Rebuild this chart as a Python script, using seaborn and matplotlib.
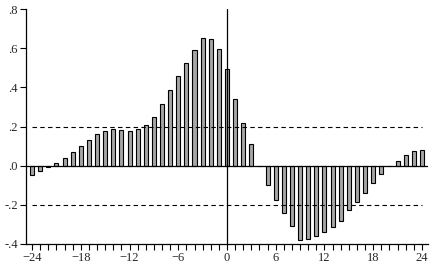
import numpy as np
import pandas as pd
import seaborn as sns
import matplotlib.pyplot as plt

# Cross-correlation by lag
lags = list(range(-24, 25))
corr = [-0.047, -0.027, -0.006, 0.013, 0.037, 0.068, 0.098, 0.129,
        0.161, 0.175, 0.186, 0.180, 0.175, 0.186, 0.206, 0.249,
        0.314, 0.387, 0.457, 0.524, 0.591, 0.652, 0.647, 0.596,
        0.493,
        0.341, 0.216, 0.110, -0.004, -0.097, -0.175, -0.240, -0.307,
        -0.379, -0.374, -0.360, -0.339, -0.314, -0.280, -0.225, -0.184,
        -0.138, -0.091, -0.040, 0.0, 0.026, 0.054, 0.073, 0.079]
band = 0.2
xtick_vals = [-24, -18, -12, -6, 0, 6, 12, 18, 24]
ytick_vals = [-0.4, -0.2, 0.0, 0.2, 0.4, 0.6, 0.8]
ytick_labels = ["-.4", "-.2", ".0", ".2", ".4", ".6", ".8"]

df = pd.DataFrame({"lag": lags, "corr": corr})

sns.set_style("ticks")
plt.rcParams["font.family"] = ["Liberation Serif", "DejaVu Serif"]

fig = plt.figure(figsize=(4.31, 2.68), dpi=100)
ax = fig.add_axes([26 / 431, 24 / 268, 402 / 431, 235 / 268])

sns.barplot(data=df, x="lag", y="corr", native_scale=True, width=0.5,
            color="#a6a6a6", saturation=1, edgecolor="black", linewidth=0.8,
            ax=ax)

ax.axhline(0, color="black", lw=0.9)
ax.axvline(0, color="black", lw=0.9)
ax.hlines([band, -band], -24, 24, colors="black", linestyles=(0, (4, 3)), lw=0.8)

ax.set_xlim(-24.75, 24.75)
ax.set_ylim(-0.4, 0.8)
ax.set_xticks(lags, minor=True)
ax.set_xticks(xtick_vals)
ax.set_xticklabels([str(v).replace("-", "\u2212") for v in xtick_vals])
ax.set_yticks(ytick_vals)
ax.set_yticklabels(ytick_labels)
ax.tick_params(axis="both", which="both", direction="out", length=4,
               width=0.8, color="black", labelsize=9, pad=2)
ax.tick_params(axis="x", which="minor", length=4)
ax.set_xlabel("")
ax.set_ylabel("")
for s in ["top", "right"]:
    ax.spines[s].set_visible(False)
for s in ["left", "bottom"]:
    ax.spines[s].set_linewidth(0.9)
    ax.spines[s].set_color("black")

fig.savefig("out.png", dpi=100)
